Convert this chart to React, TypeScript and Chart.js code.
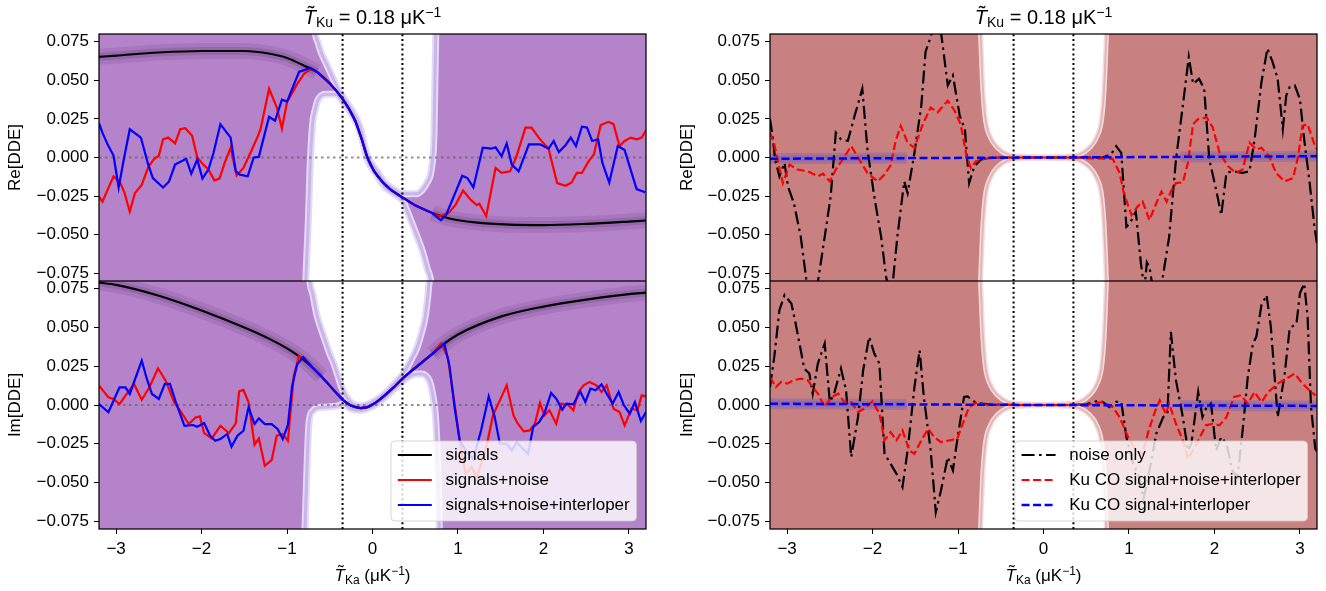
import React, { useEffect, useRef } from 'react';
import { Chart, registerables } from 'chart.js';

Chart.register(...registerables);

type Pt = [number, number];

// ---------------- axes / text ----------------
const X_RANGE = [-3.2, 3.2];
const Y_RANGE = [-0.08, 0.08];
const xTicks = [-3, -2, -1, 0, 1, 2, 3];
const yTicks = [-0.075, -0.05, -0.025, 0, 0.025, 0.05, 0.075];
const dottedLinesX = [-0.35, 0.35];
const zeroLine: Pt[] = [[-3.2, 0], [3.2, 0]];

const titleSub = 'Ku';
const titleMain = ' = 0.18 μK';
const titleSup = '−1';
const xLabelSub = 'Ka';
const xLabelMain = ' (μK';
const xLabelSup = '−1';
const xLabelEnd = ')';
const yLabelTop = 'Re[DDE]';
const yLabelBottom = 'Im[DDE]';

const leftLegendLabels = ['signals', 'signals+noise', 'signals+noise+interloper'];
const rightLegendLabels = ['noise only', 'Ku CO signal+noise+interloper', 'Ku CO signal+interloper'];

// ---------------- left column: signals ----------------
const reSignal: Pt[] = [
  [-3.2, 0.0652], [-3.0, 0.066], [-2.5, 0.068], [-2.0, 0.069], [-1.5, 0.069], [-1.2, 0.0672], [-1.0, 0.0645],
  [-0.8, 0.0595], [-0.65, 0.0555], [-0.5, 0.048], [-0.42, 0.043], [-0.35, 0.038], [-0.28, 0.032], [-0.2, 0.0235],
  [-0.13, 0.0125], [-0.06, 0.0], [0.02, -0.009], [0.12, -0.016], [0.22, -0.0212], [0.35, -0.0258], [0.5, -0.031],
  [0.7, -0.036], [0.9, -0.0395], [1.2, -0.042], [1.6, -0.0435], [2.0, -0.0438], [2.5, -0.043], [3.0, -0.0415], [3.2, -0.0408],
];
const reNoisy: Pt[] = [
  [-3.2, -0.0253], [-3.16, -0.0286], [-3.03, -0.0122], [-2.95, -0.0166], [-2.9, -0.0231], [-2.84, -0.0351], [-2.78, -0.0231],
  [-2.7, -0.0177], [-2.62, -0.0057], [-2.56, -0.0013], [-2.5, 0.0013], [-2.45, 0.0118], [-2.39, 0.0129], [-2.31, 0.0092],
  [-2.25, 0.0183], [-2.19, 0.019], [-2.11, 0.014], [-2.05, 0.0], [-1.98, -0.0046], [-1.92, -0.0078], [-1.85, -0.0148],
  [-1.79, -0.0137], [-1.73, -0.0035], [-1.66, 0.0063], [-1.59, -0.0116], [-1.51, -0.0068], [-1.41, 0.0052], [-1.34, 0.014],
  [-1.31, 0.0183], [-1.21, 0.0445], [-1.12, 0.0325], [-1.06, 0.0187], [-1.0, 0.0358], [-0.88, 0.0477], [-0.8, 0.0543],
  [-0.73, 0.057], [-0.65, 0.0555], [-0.5, 0.048], [-0.42, 0.043], [-0.35, 0.038], [-0.28, 0.032], [-0.2, 0.0235],
  [-0.13, 0.0125], [-0.06, 0.0], [0.02, -0.009], [0.12, -0.016], [0.22, -0.0212], [0.35, -0.0258], [0.5, -0.031],
  [0.7, -0.036], [0.785, -0.038], [0.885, -0.0362], [0.97, -0.0308], [1.06, -0.0214], [1.15, -0.0275], [1.22, -0.0308],
  [1.25, -0.03], [1.33, -0.038], [1.44, -0.0068], [1.51, -0.01], [1.61, -0.009], [1.68, 0.0], [1.79, 0.0194],
  [1.86, 0.0194], [1.96, 0.0118], [2.06, 0.0057], [2.16, -0.0166], [2.26, -0.0183], [2.33, -0.0162], [2.39, -0.01],
  [2.45, -0.01], [2.53, -0.0024], [2.59, 0.002], [2.67, 0.021], [2.76, 0.0231], [2.82, 0.0216], [2.89, 0.0074],
  [2.95, 0.0107], [3.02, 0.0129], [3.09, 0.0118], [3.15, 0.0129], [3.2, 0.0177],
];
const reInterloper: Pt[] = [
  [-3.2, 0.0222], [-3.16, 0.0161], [-3.1, 0.0085], [-3.03, 0.0013], [-2.97, -0.0194], [-2.91, -0.0013], [-2.84, 0.0183],
  [-2.71, 0.0129], [-2.63, -0.0035], [-2.57, -0.0133], [-2.45, -0.0194], [-2.38, -0.0155], [-2.31, -0.0046], [-2.18, -0.0009],
  [-2.12, -0.0105], [-2.05, -0.0013], [-1.99, -0.0137], [-1.92, -0.0078], [-1.86, 0.0031], [-1.78, 0.0216], [-1.66, 0.0129],
  [-1.6, -0.0089], [-1.55, -0.0111], [-1.46, -0.0122], [-1.39, 0.0], [-1.33, 0.0004], [-1.21, 0.0264], [-1.14, 0.0238],
  [-1.06, 0.0375], [-1.0, 0.0362], [-0.86, 0.0554], [-0.73, 0.058], [-0.65, 0.0555], [-0.5, 0.048], [-0.42, 0.043],
  [-0.35, 0.038], [-0.28, 0.032], [-0.2, 0.0235], [-0.13, 0.0125], [-0.06, 0.0], [0.02, -0.009], [0.12, -0.016],
  [0.22, -0.0212], [0.35, -0.0258], [0.5, -0.031], [0.7, -0.036], [0.8, -0.0406], [0.86, -0.0373], [0.95, -0.0253],
  [1.05, -0.0118], [1.11, -0.0133], [1.18, -0.0194], [1.29, 0.0063], [1.39, 0.0057], [1.44, 0.0066], [1.51, 0.0009],
  [1.57, 0.009], [1.63, -0.0046], [1.71, -0.009], [1.83, 0.0085], [1.96, 0.0085], [2.06, 0.0057], [2.12, 0.0107],
  [2.18, 0.0035], [2.26, 0.0081], [2.32, 0.0129], [2.38, 0.0074], [2.45, 0.0199], [2.51, 0.0194], [2.57, 0.0107],
  [2.64, 0.0118], [2.69, -0.0035], [2.77, -0.0162], [2.87, 0.0074], [2.95, 0.0048], [3.09, -0.0205], [3.19, -0.0225],
];

const imSignal: Pt[] = [
  [-3.2, 0.079], [-3.0, 0.0775], [-2.5, 0.0705], [-2.0, 0.061], [-1.5, 0.05], [-1.2, 0.0425], [-1.0, 0.0365],
  [-0.85, 0.031], [-0.7, 0.024], [-0.6, 0.0185], [-0.5, 0.0125], [-0.42, 0.0075], [-0.35, 0.0035], [-0.25, -0.0005],
  [-0.14, -0.002], [-0.05, -0.0012], [0.05, 0.002], [0.15, 0.0065], [0.25, 0.0115], [0.35, 0.017], [0.5, 0.024],
  [0.7, 0.033], [0.85, 0.04], [1.0, 0.0455], [1.5, 0.057], [2.0, 0.0635], [2.5, 0.068], [3.0, 0.0715], [3.2, 0.0725],
];
const imNoisy: Pt[] = [
  [-3.2, 0.0125], [-3.09, 0.005], [-3.03, 0.0039], [-2.96, 0.0006], [-2.89, 0.006], [-2.79, 0.0136], [-2.7, 0.0034],
  [-2.61, 0.0114], [-2.51, 0.0237], [-2.42, 0.0157], [-2.32, 0.0017], [-2.25, -0.0037], [-2.15, -0.0123], [-2.07, -0.008],
  [-2.02, -0.0073], [-1.97, -0.0181], [-1.88, -0.0216], [-1.78, -0.0134], [-1.68, -0.0181], [-1.6, -0.0119], [-1.56, 0.0088],
  [-1.51, 0.0097], [-1.45, 0.0017], [-1.38, -0.0256], [-1.33, -0.0216], [-1.26, -0.0392], [-1.18, -0.0356], [-1.12, -0.0198],
  [-1.05, -0.0187], [-0.99, -0.0231], [-0.92, 0.019], [-0.86, 0.0315], [-0.79, 0.0297], [-0.7, 0.024], [-0.6, 0.0185],
  [-0.5, 0.0125], [-0.42, 0.0075], [-0.35, 0.0035], [-0.25, -0.0005], [-0.14, -0.002], [-0.05, -0.0012], [0.05, 0.002],
  [0.15, 0.0065], [0.25, 0.0115], [0.35, 0.017], [0.5, 0.024], [0.7, 0.033], [0.805, 0.0397], [0.88, 0.031],
  [0.96, 0.0009], [1.02, -0.0228], [1.09, -0.0444], [1.16, -0.04], [1.22, -0.0465], [1.27, -0.038], [1.34, -0.025],
  [1.41, -0.0067], [1.49, 0.003], [1.57, 0.0127], [1.65, -0.0067], [1.7, -0.0121], [1.77, -0.017], [1.84, -0.0164],
  [1.9, -0.0121], [1.96, 0.0013], [2.01, -0.0067], [2.07, -0.0034], [2.15, -0.0121], [2.21, 0.0009], [2.29, 0.0],
  [2.35, -0.0034], [2.41, 0.0084], [2.47, 0.0127], [2.54, 0.0149], [2.62, 0.0127], [2.68, 0.0084], [2.74, 0.0127],
  [2.82, -0.0024], [2.89, -0.0045], [2.95, -0.0131], [3.03, -0.0024], [3.1, -0.0034], [3.15, 0.0062], [3.2, 0.0056],
];
const imInterloper: Pt[] = [
  [-3.2, 0.0006], [-3.09, -0.0047], [-2.96, 0.0114], [-2.89, 0.0114], [-2.84, 0.0071], [-2.7, 0.0287], [-2.64, 0.0168],
  [-2.58, 0.0071], [-2.5, 0.0039], [-2.43, 0.0136], [-2.37, 0.0136], [-2.29, 0.0], [-2.2, -0.0134], [-2.1, -0.0129],
  [-2.05, -0.014], [-1.97, -0.0116], [-1.9, -0.0198], [-1.84, -0.0231], [-1.78, -0.022], [-1.7, -0.0187], [-1.65, -0.0269],
  [-1.58, -0.0198], [-1.51, -0.0166], [-1.45, -0.0015], [-1.38, -0.0123], [-1.33, -0.0086], [-1.26, -0.0123], [-1.18, -0.0123],
  [-1.11, -0.0155], [-1.05, -0.022], [-0.99, -0.0129], [-0.94, 0.0125], [-0.88, 0.0265], [-0.81, 0.0308], [-0.7, 0.024],
  [-0.6, 0.0185], [-0.5, 0.0125], [-0.42, 0.0075], [-0.35, 0.0035], [-0.25, -0.0005], [-0.14, -0.002], [-0.05, -0.0012],
  [0.05, 0.002], [0.15, 0.0065], [0.25, 0.0115], [0.35, 0.017], [0.5, 0.024], [0.7, 0.033], [0.84, 0.0397], [0.9, 0.0256],
  [0.96, -0.0013], [1.02, -0.0228], [1.1, -0.0304], [1.18, -0.0347], [1.27, -0.0164], [1.36, 0.0056], [1.43, -0.0078],
  [1.49, -0.025], [1.57, -0.025], [1.63, -0.0293], [1.69, -0.0239], [1.74, -0.0272], [1.82, -0.0315], [1.88, -0.0142],
  [1.95, -0.011], [2.01, -0.0056], [2.09, 0.0078], [2.15, 0.0041], [2.22, -0.003], [2.27, 0.0009], [2.35, 0.0004],
  [2.43, 0.0088], [2.49, 0.0019], [2.55, 0.0106], [2.61, 0.0095], [2.68, 0.0134], [2.74, 0.0073], [2.81, 0.0009],
  [2.88, 0.0084], [2.94, 0.0], [3.01, -0.0056], [3.07, 0.0019], [3.14, -0.0103], [3.2, -0.0045],
];

// uncertainty bands (left column)
const bandReX = [-3.3, -0.8, -0.78, -0.75, -0.73, -0.7, -0.67, -0.64, -0.6, -0.55, -0.5, -0.45, -0.4, -0.35, -0.25, -0.15, -0.06, 0.05, 0.15, 0.25, 0.35, 0.45, 0.52, 0.58, 0.64, 0.69, 0.72, 0.74, 0.77, 3.3];
const bandReHi = [0.12, 0.12, 0.12, 0.12, 0.12, 0.12, 0.082, 0.075, 0.068, 0.062, 0.056, 0.05, 0.044, 0.04, 0.0315, 0.0205, 0.0015, -0.0085, -0.0165, -0.0205, -0.0235, -0.0235, -0.0235, -0.021, -0.016, -0.007, 0.016, 0.08, 0.12, 0.12];
const bandReLo = [-0.12, -0.12, -0.08, -0.04, -0.006, 0.022, 0.031, 0.037, 0.04, 0.041, 0.041, 0.041, 0.04, 0.036, 0.0285, 0.0175, -0.0015, -0.0115, -0.0195, -0.0235, -0.028, -0.041, -0.051, -0.06, -0.072, -0.085, -0.12, -0.12, -0.12, -0.12];
const bandImX = [-3.3, -0.82, -0.79, -0.76, -0.74, -0.7, -0.65, -0.6, -0.55, -0.5, -0.45, -0.4, -0.35, -0.25, -0.14, 0.0, 0.1, 0.2, 0.3, 0.37, 0.45, 0.52, 0.57, 0.62, 0.67, 0.7, 0.74, 0.77, 0.8, 3.3];
const bandImHi = [0.12, 0.12, 0.12, 0.12, 0.085, 0.072, 0.058, 0.049, 0.041, 0.033, 0.0265, 0.018, 0.01, 0.0015, -0.0005, 0.002, 0.0055, 0.0105, 0.0165, 0.021, 0.029, 0.037, 0.046, 0.058, 0.085, 0.12, 0.12, 0.12, 0.12, 0.12];
const bandImLo = [-0.12, -0.12, -0.08, -0.03, -0.01, -0.004, -0.002, -0.0015, -0.0015, -0.0012, -0.001, -0.0005, 0.0005, -0.0025, -0.0035, -0.001, 0.0025, 0.0075, 0.0125, 0.016, 0.019, 0.02, 0.02, 0.019, 0.015, 0.008, -0.01, -0.05, -0.12, -0.12];

// ---------------- right column ----------------
const coReNoiseOnly: Pt[] = [
  [-3.2, 0.0249], [-3.17, 0.014], [-3.14, -0.0013], [-3.09, -0.0122], [-3.03, -0.0035], [-2.99, -0.0187], [-2.92, -0.0296],
  [-2.84, -0.0514], [-2.75, -0.09], [-2.66, -0.088], [-2.56, -0.0514], [-2.49, -0.0253], [-2.43, 0.0161], [-2.37, 0.0118],
  [-2.29, 0.0107], [-2.21, 0.027], [-2.12, 0.0445], [-2.06, 0.0052], [-1.98, -0.0253], [-1.9, -0.0514], [-1.84, -0.078],
  [-1.8, -0.085], [-1.76, -0.079], [-1.71, -0.0514], [-1.63, -0.0155], [-1.59, -0.0231], [-1.51, 0.003], [-1.43, 0.0336],
  [-1.38, 0.0685], [-1.32, 0.078], [-1.27, 0.088], [-1.2, 0.0815], [-1.12, 0.0467], [-1.06, 0.0532], [-0.98, 0.027],
  [-0.92, 0.0183], [-0.87, -0.0166], [-0.81, -0.0057], [-0.73, -0.0013], [-0.58, 0.0], [0.0, 0.0], [0.69, 0.0],
  [0.79, 0.002], [0.85, 0.0074], [0.91, 0.003], [0.97, -0.0449], [1.01, -0.0427], [1.08, -0.035], [1.14, -0.0689],
  [1.18, -0.085], [1.21, -0.068], [1.24, -0.071], [1.28, -0.085], [1.36, -0.09], [1.47, -0.0514], [1.55, -0.0013],
  [1.63, 0.0336], [1.7, 0.0652], [1.75, 0.0477], [1.82, 0.051], [1.88, 0.0445], [1.94, -0.0013], [2.02, -0.0209],
  [2.08, -0.0373], [2.14, -0.01], [2.21, -0.0089], [2.33, -0.01], [2.41, -0.0089], [2.47, 0.0118], [2.55, 0.0488],
  [2.62, 0.0706], [2.68, 0.0619], [2.74, 0.051], [2.8, 0.0183], [2.84, 0.0401], [2.88, 0.0456], [2.94, 0.0467],
  [3.0, 0.0379], [3.05, 0.0118], [3.11, -0.0144], [3.17, -0.0449], [3.2, -0.056],
];
const coReNoisy: Pt[] = [
  [-3.2, 0.0161], [-3.15, 0.0085], [-3.05, -0.0166], [-2.97, -0.0046], [-2.88, -0.0078], [-2.76, -0.0089], [-2.64, -0.0122],
  [-2.58, -0.0105], [-2.5, -0.0155], [-2.43, -0.0078], [-2.35, -0.0013], [-2.25, 0.0074], [-2.17, 0.0], [-2.06, -0.01],
  [-1.94, -0.0155], [-1.86, -0.0111], [-1.79, -0.0052], [-1.73, 0.0107], [-1.67, 0.0205], [-1.59, 0.0096], [-1.51, 0.0063],
  [-1.42, 0.0205], [-1.32, 0.0325], [-1.24, 0.0292], [-1.12, 0.0368], [-1.04, 0.0303], [-0.97, 0.0216], [-0.9, 0.0009],
  [-0.85, -0.0068], [-0.79, -0.0024], [-0.69, -0.0007], [-0.5, 0.0], [0.0, 0.0], [0.3, 0.0], [0.81, -0.0009],
  [0.89, -0.01], [0.94, -0.0231], [1.03, -0.0373], [1.1, -0.0318], [1.16, -0.0286], [1.24, -0.0405], [1.32, -0.0296],
  [1.38, -0.022], [1.44, -0.0286], [1.5, -0.0209], [1.55, -0.0166], [1.63, -0.0161], [1.69, -0.0035], [1.75, 0.0216],
  [1.81, 0.0249], [1.91, 0.026], [1.98, 0.0194], [2.06, 0.003], [2.16, -0.0057], [2.25, -0.01], [2.33, -0.0078],
  [2.41, 0.0096], [2.49, 0.0052], [2.55, 0.0063], [2.64, 0.0009], [2.72, -0.01], [2.82, -0.0155], [2.92, -0.0133],
  [2.98, 0.0009], [3.03, 0.0205], [3.09, 0.0216], [3.17, 0.0085], [3.2, 0.0052],
];
const coReSignal: Pt[] = [[-3.2, -0.0008], [-1.6, -0.0004], [0.0, 0.0], [1.6, 0.0004], [3.2, 0.0008]];

const coImNoiseOnly: Pt[] = [
  [-3.2, 0.0116], [-3.15, 0.031], [-3.09, 0.0612], [-3.03, 0.0709], [-2.95, 0.0655], [-2.9, 0.0526], [-2.84, 0.0353],
  [-2.8, 0.0235], [-2.74, 0.0203], [-2.7, 0.0073], [-2.64, 0.0267], [-2.56, 0.0397], [-2.5, 0.0019], [-2.45, 0.0073],
  [-2.37, 0.0235], [-2.31, 0.0095], [-2.25, -0.0336], [-2.17, -0.0078], [-2.11, 0.0224], [-2.04, 0.044], [-1.98, 0.0332],
  [-1.92, 0.0267], [-1.86, -0.0315], [-1.8, -0.0369], [-1.72, -0.0444], [-1.65, -0.053], [-1.59, -0.0293], [-1.51, 0.0116],
  [-1.45, 0.0353], [-1.4, 0.0052], [-1.32, -0.0293], [-1.26, -0.0692], [-1.2, -0.0552], [-1.12, -0.0336], [-1.06, -0.0422],
  [-1.01, -0.0228], [-0.93, 0.0052], [-0.89, 0.0056], [-0.79, 0.0013], [-0.65, 0.0004], [-0.3, 0.0], [0.0, 0.0],
  [0.3, 0.0], [0.5, 0.0004], [0.63, 0.0026], [0.69, 0.002], [0.77, -0.0013], [0.85, 0.002], [0.91, 0.002],
  [0.97, -0.0207], [1.05, -0.038], [1.12, -0.0466], [1.17, -0.0606], [1.24, -0.0422], [1.32, -0.0185], [1.4, -0.0078],
  [1.45, -0.0056], [1.49, 0.0472], [1.55, 0.0159], [1.63, -0.0078], [1.69, -0.0293], [1.73, -0.025], [1.81, 0.0084],
  [1.86, -0.0078], [1.9, -0.0024], [1.96, 0.0009], [2.02, -0.0293], [2.08, -0.0207], [2.14, -0.025], [2.21, -0.0422],
  [2.27, -0.0466], [2.33, -0.0164], [2.39, 0.0181], [2.45, 0.0397], [2.49, 0.044], [2.55, 0.0644], [2.61, 0.0709],
  [2.66, 0.0504], [2.74, -0.0078], [2.82, 0.0192], [2.88, 0.0493], [2.96, 0.0526], [3.0, 0.072], [3.05, 0.0784],
  [3.09, 0.0569], [3.13, -0.0013], [3.18, -0.0282], [3.2, -0.03],
];
const coImNoisy: Pt[] = [
  [-3.2, 0.018], [-3.13, 0.0116], [-3.07, 0.0149], [-3.0, 0.0138], [-2.92, 0.016], [-2.84, 0.017], [-2.76, 0.016],
  [-2.7, 0.0116], [-2.64, 0.0073], [-2.56, -0.0013], [-2.48, 0.0052], [-2.4, 0.0073], [-2.33, 0.0019], [-2.25, 0.0019],
  [-2.17, -0.0045], [-2.1, -0.0024], [-2.0, 0.0024], [-1.92, -0.0056], [-1.86, -0.0228], [-1.79, -0.0175], [-1.72, -0.0228],
  [-1.65, -0.0164], [-1.57, -0.0293], [-1.51, -0.0315], [-1.43, -0.0228], [-1.35, -0.0153], [-1.28, -0.0207], [-1.2, -0.0239],
  [-1.1, -0.0228], [-1.01, -0.0218], [-0.93, -0.0099], [-0.87, -0.0013], [-0.79, 0.0013], [-0.65, 0.0], [0.0, 0.0],
  [0.3, 0.0], [0.54, 0.0004], [0.69, 0.002], [0.81, -0.0013], [0.89, -0.0078], [0.99, -0.0207], [1.08, -0.0293],
  [1.16, -0.0315], [1.23, -0.0164], [1.31, -0.0034], [1.36, 0.003], [1.43, -0.0056], [1.47, 0.0009], [1.55, -0.0121],
  [1.63, -0.0228], [1.69, -0.0347], [1.77, -0.0272], [1.85, -0.0185], [1.9, -0.0131], [1.98, -0.0121], [2.06, -0.0131],
  [2.14, -0.0078], [2.23, 0.0052], [2.31, 0.0063], [2.39, 0.0009], [2.47, 0.0084], [2.55, 0.0019], [2.63, 0.0084],
  [2.74, 0.0138], [2.84, 0.017], [2.94, 0.0203], [3.03, 0.0138], [3.11, 0.0095], [3.18, 0.0062],
];
const coImSignal: Pt[] = [[-3.2, 0.0008], [-1.6, 0.0004], [0.0, 0.0], [1.6, -0.0003], [3.2, -0.0006]];

// uncertainty band (right column)
const bandCoX = [-3.3, -0.8, -0.77, -0.74, -0.71, -0.68, -0.62, -0.54, -0.42, -0.3, 0.0, 0.3, 0.42, 0.54, 0.62, 0.68, 0.71, 0.74, 0.77, 0.8, 3.3];
const bandCoHi = [0.12, 0.12, 0.12, 0.085, 0.045, 0.025, 0.013, 0.0065, 0.002, 0.001, 0.0005, 0.001, 0.002, 0.0065, 0.013, 0.025, 0.045, 0.085, 0.12, 0.12, 0.12];
const bandCoLo = [-0.12, -0.12, -0.12, -0.085, -0.045, -0.025, -0.013, -0.0065, -0.002, -0.001, -0.0005, -0.001, -0.002, -0.0065, -0.013, -0.025, -0.045, -0.085, -0.12, -0.12, -0.12];

// ---------------- styles ----------------
const FONT = '"Liberation Sans", Arial, Helvetica, sans-serif';
const RED = 'rgb(255,0,0)';
const BLUE = 'rgb(0,0,255)';
const DASHDOT = [13, 4.5, 2.5, 4.5];
const DASHED = [8, 3.5];
const PURPLE = { fill: 'rgb(181,131,202)', edgeOut: 'rgb(226,218,247)', edgeIn: 'rgb(203,180,232)', wOut: 7, wIn: 3 };
const ROSE = { fill: 'rgb(201,128,128)', edgeOut: 'rgb(244,220,220)', edgeIn: 'rgb(226,182,182)', wOut: 5, wIn: 2 };

type LegendItem = { label: string; color: string; width: number; dash: number[] };
const leftLegend: LegendItem[] = [
  { label: leftLegendLabels[0], color: '#000', width: 2.2, dash: [] },
  { label: leftLegendLabels[1], color: RED, width: 2.2, dash: [] },
  { label: leftLegendLabels[2], color: BLUE, width: 2.2, dash: [] },
];
const rightLegend: LegendItem[] = [
  { label: rightLegendLabels[0], color: '#000', width: 2.2, dash: DASHDOT },
  { label: rightLegendLabels[1], color: RED, width: 2.2, dash: DASHED },
  { label: rightLegendLabels[2], color: BLUE, width: 2.5, dash: DASHED },
];

// ---------------- helpers ----------------
const lineDs = (pts: (number | null)[][], opts: any) => ({
  data: pts.map(([x, y]) => ({ x, y })),
  pointRadius: 0,
  borderWidth: 2,
  tension: 0,
  clip: 0,
  fill: false,
  ...opts,
});

function bandDatasets(xs: number[], lo: number[], hi: number[], c: any) {
  const loPts = xs.map((x, i) => [x, lo[i]]);
  const hiPts = xs.map((x, i) => [x, hi[i]]);
  const curve = { cubicInterpolationMode: 'monotone' };
  return [
    lineDs(loPts, { borderColor: 'rgba(0,0,0,0)', borderWidth: 1, ...curve }),
    lineDs(hiPts, { borderColor: 'rgba(0,0,0,0)', borderWidth: 1, fill: '-1', backgroundColor: c.fill, ...curve }),
    lineDs(loPts, { borderColor: c.edgeOut, borderWidth: c.wOut, ...curve }),
    lineDs(hiPts, { borderColor: c.edgeOut, borderWidth: c.wOut, ...curve }),
    lineDs(loPts, { borderColor: c.edgeIn, borderWidth: c.wIn, ...curve }),
    lineDs(hiPts, { borderColor: c.edgeIn, borderWidth: c.wIn, ...curve }),
  ];
}

const vLineDatasets = () =>
  dottedLinesX.map((v) => lineDs([[v, Y_RANGE[0]], [v, Y_RANGE[1]]], { borderColor: '#000', borderWidth: 2, borderDash: [2, 2.8] }));

function withOrder(ds: any[]) {
  ds.forEach((d, i) => { d.order = ds.length - i; });
  return ds;
}

function leftDatasets(bx: number[], blo: number[], bhi: number[], signal: Pt[], noisy: Pt[], interl: Pt[]) {
  const halo = signal.map(([x, y]) => [x, Math.abs(x) < 0.6 ? null : y]);
  return withOrder([
    ...bandDatasets(bx, blo, bhi, PURPLE),
    lineDs(halo, { borderColor: 'rgba(90,45,110,0.15)', borderWidth: 16, cubicInterpolationMode: 'monotone' }),
    lineDs(halo, { borderColor: 'rgba(90,45,110,0.2)', borderWidth: 8, cubicInterpolationMode: 'monotone' }),
    lineDs(zeroLine, { borderColor: 'rgba(100,100,100,0.7)', borderWidth: 2, borderDash: [2.5, 3.5] }),
    ...vLineDatasets(),
    lineDs(signal, { borderColor: '#000', borderWidth: 2.2, cubicInterpolationMode: 'monotone' }),
    lineDs(noisy, { borderColor: RED, borderWidth: 2.2 }),
    lineDs(interl, { borderColor: BLUE, borderWidth: 2.2 }),
  ]);
}

function rightDatasets(noiseOnly: Pt[], noisy: Pt[], signal: Pt[]) {
  const halo = signal.map(([x, y]) => [x, Math.abs(x) < 0.7 ? null : y]);
  return withOrder([
    ...bandDatasets(bandCoX, bandCoLo, bandCoHi, ROSE),
    lineDs(halo, { borderColor: 'rgba(95,85,200,0.3)', borderWidth: 11 }),
    lineDs(halo, { borderColor: 'rgba(95,85,200,0.3)', borderWidth: 6 }),
    ...vLineDatasets(),
    lineDs(noiseOnly, { borderColor: '#000', borderWidth: 2.2, borderDash: DASHDOT }),
    lineDs(noisy, { borderColor: RED, borderWidth: 2.2, borderDash: DASHED }),
    lineDs(signal, { borderColor: BLUE, borderWidth: 2.5, borderDash: DASHED }),
  ]);
}

const fmtY = (v: number) => (Math.abs(v) < 1e-9 ? '0.000' : (v < 0 ? '−' : '') + Math.abs(v).toFixed(3));
const fmtX = (v: number) => (v < 0 ? '−' + Math.abs(v) : String(v));

const framePlugin = {
  id: 'frame',
  afterDatasetsDraw(chart: any) {
    const { ctx, chartArea: a } = chart;
    ctx.save();
    ctx.strokeStyle = '#000';
    ctx.lineWidth = 1.25;
    ctx.setLineDash([]);
    ctx.strokeRect(a.left, a.top, a.right - a.left, a.bottom - a.top);
    ctx.restore();
  },
};

const makeLegendPlugin = (items: LegendItem[]) => ({
  id: 'boxLegend',
  afterDraw(chart: any) {
    const { ctx, chartArea: a } = chart;
    const fs = 17;
    ctx.save();
    ctx.font = `${fs}px ${FONT}`;
    const maxW = Math.max(...items.map((it) => ctx.measureText(it.label).width));
    const pad = 0.4 * fs, handle = 2 * fs, gap = 0.8 * fs;
    const right = a.right - 9.5;
    const bottom = a.bottom - 8;
    const w = pad + handle + gap + maxW + pad;
    const h = 80;
    const left = right - w;
    const top = bottom - h;
    ctx.beginPath();
    ctx.roundRect(left, top, w, h, 4);
    ctx.fillStyle = 'rgba(255,255,255,0.8)';
    ctx.fill();
    ctx.strokeStyle = 'rgba(204,204,204,0.8)';
    ctx.lineWidth = 1;
    ctx.stroke();
    items.forEach((it, i) => {
      const y = top + 14 + i * 25;
      ctx.beginPath();
      ctx.setLineDash(it.dash);
      ctx.strokeStyle = it.color;
      ctx.lineWidth = it.width;
      ctx.moveTo(left + pad, y);
      ctx.lineTo(left + pad + handle, y);
      ctx.stroke();
      ctx.setLineDash([]);
      ctx.fillStyle = '#000';
      ctx.textBaseline = 'middle';
      ctx.textAlign = 'left';
      ctx.fillText(it.label, left + pad + handle + gap, y + 0.5);
    });
    ctx.restore();
  },
});

function makeConfig(p: { datasets: any[]; yTitle: string; showX: boolean; yAxisW: number; xAxisH: number; padding: any; legend?: LegendItem[] }) {
  const tickFont = { family: FONT, size: 17 };
  const grid = { display: true, drawOnChartArea: false, drawTicks: true, tickLength: 5, color: '#000', lineWidth: 1 };
  const plugins: any[] = [framePlugin];
  if (p.legend) plugins.push(makeLegendPlugin(p.legend));
  return {
    type: 'line',
    data: { datasets: p.datasets },
    plugins,
    options: {
      animation: false,
      responsive: true,
      maintainAspectRatio: false,
      events: [],
      layout: { padding: p.padding },
      plugins: { legend: { display: false }, tooltip: { enabled: false }, title: { display: false } },
      scales: {
        x: {
          type: 'linear',
          min: X_RANGE[0],
          max: X_RANGE[1],
          display: p.showX,
          afterBuildTicks: (s: any) => { s.ticks = xTicks.map((v) => ({ value: v })); },
          afterFit: (s: any) => { s.height = p.xAxisH; s.paddingLeft = 0; s.paddingRight = 0; },
          ticks: { font: tickFont, color: '#000', padding: 5, maxRotation: 0, autoSkip: false, callback: (v: number) => fmtX(v) },
          grid,
          border: { display: false },
        },
        y: {
          type: 'linear',
          min: Y_RANGE[0],
          max: Y_RANGE[1],
          afterBuildTicks: (s: any) => { s.ticks = yTicks.map((v) => ({ value: v })); },
          afterFit: (s: any) => { s.width = p.yAxisW; s.paddingTop = 0; s.paddingBottom = 0; },
          ticks: { font: tickFont, color: '#000', padding: 5, autoSkip: false, callback: (v: number) => fmtY(v) },
          grid,
          border: { display: false },
          title: { display: true, text: p.yTitle, color: '#000', font: { family: FONT, size: 17 }, padding: { top: 5, bottom: 0 } },
        },
      },
    },
  };
}

function ChartPanel({ left, top, width, height, build }: { left: number; top: number; width: number; height: number; build: () => any }) {
  const ref = useRef<HTMLCanvasElement>(null);
  useEffect(() => {
    const chart = new Chart(ref.current as HTMLCanvasElement, build());
    return () => chart.destroy();
  }, []);
  return (
    <div style={{ position: 'absolute', left, top, width, height }}>
      <canvas ref={ref} />
    </div>
  );
}

function TildeT() {
  return (
    <span style={{ position: 'relative', fontStyle: 'italic' }}>
      T
      <span style={{ position: 'absolute', left: '0.2em', top: '-0.24em', fontStyle: 'normal' }}>˜</span>
    </span>
  );
}

function PanelTitle({ cx }: { cx: number }) {
  return (
    <div style={{ position: 'absolute', left: cx - 200, top: 5, width: 400, textAlign: 'center', fontFamily: FONT, fontSize: 20, lineHeight: '24px', whiteSpace: 'nowrap', color: '#000' }}>
      <TildeT />
      <span style={{ fontSize: 14, position: 'relative', top: 3 }}>{titleSub}</span>
      {titleMain}
      <span style={{ fontSize: 14, position: 'relative', top: -7 }}>{titleSup}</span>
    </div>
  );
}

function XLabel({ cx }: { cx: number }) {
  return (
    <div style={{ position: 'absolute', left: cx - 150, top: 566, width: 300, textAlign: 'center', fontFamily: FONT, fontSize: 17, lineHeight: '20px', whiteSpace: 'nowrap', color: '#000' }}>
      <TildeT />
      <span style={{ fontSize: 12, position: 'relative', top: 3 }}>{xLabelSub}</span>
      {xLabelMain}
      <span style={{ fontSize: 12, position: 'relative', top: -6 }}>{xLabelSup}</span>
      {xLabelEnd}
    </div>
  );
}

export default function App() {
  return (
    <div style={{ position: 'absolute', left: 0, top: 0, width: 1326, height: 591, background: '#fff', overflow: 'hidden' }}>
      <ChartPanel
        left={0} top={0} width={660} height={281}
        build={() => makeConfig({
          datasets: leftDatasets(bandReX, bandReLo, bandReHi, reSignal, reNoisy, reInterloper),
          yTitle: yLabelTop, showX: false, yAxisW: 99, xAxisH: 0, padding: { top: 34, right: 14, left: 0, bottom: 0 },
        })}
      />
      <ChartPanel
        left={0} top={281} width={660} height={310}
        build={() => makeConfig({
          datasets: leftDatasets(bandImX, bandImLo, bandImHi, imSignal, imNoisy, imInterloper),
          yTitle: yLabelBottom, showX: true, yAxisW: 99, xAxisH: 62, padding: { top: 0, right: 14, left: 0, bottom: 0 },
          legend: leftLegend,
        })}
      />
      <ChartPanel
        left={672} top={0} width={654} height={281}
        build={() => makeConfig({
          datasets: rightDatasets(coReNoiseOnly, coReNoisy, coReSignal),
          yTitle: yLabelTop, showX: false, yAxisW: 98, xAxisH: 0, padding: { top: 34, right: 9, left: 0, bottom: 0 },
        })}
      />
      <ChartPanel
        left={672} top={281} width={654} height={310}
        build={() => makeConfig({
          datasets: rightDatasets(coImNoiseOnly, coImNoisy, coImSignal),
          yTitle: yLabelBottom, showX: true, yAxisW: 98, xAxisH: 62, padding: { top: 0, right: 9, left: 0, bottom: 0 },
          legend: rightLegend,
        })}
      />
      <PanelTitle cx={372.5} />
      <PanelTitle cx={1043.5} />
      <XLabel cx={372.5} />
      <XLabel cx={1043.5} />
    </div>
  );
}
